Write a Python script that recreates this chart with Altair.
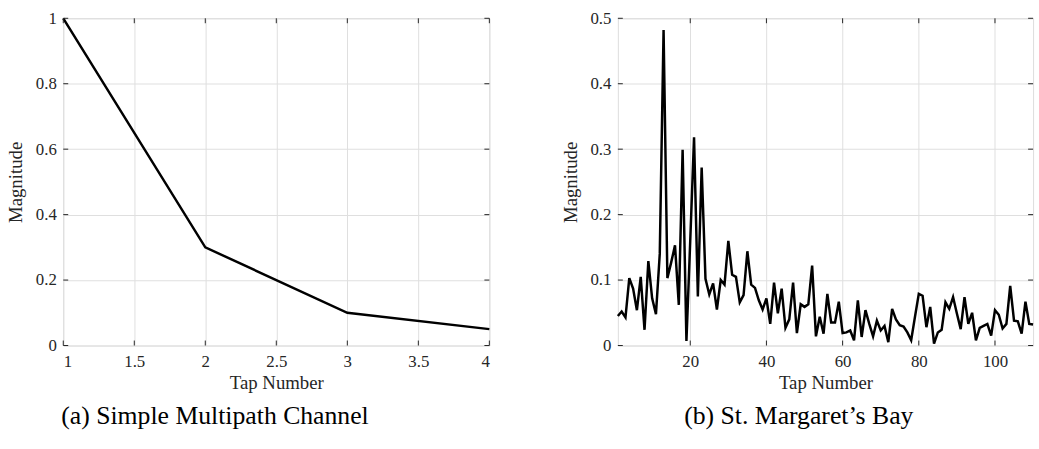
import altair as alt
import pandas as pd

# ---- data ----
left_taps = [1, 2, 3, 4]
left_mag = [1.0, 0.3, 0.1, 0.05]

right_mag = [0.045, 0.052, 0.043, 0.103, 0.087, 0.054, 0.105, 0.024, 0.129, 0.072,
             0.048, 0.140, 0.482, 0.103, 0.127, 0.153, 0.062, 0.299, 0.007, 0.160,
             0.318, 0.075, 0.272, 0.102, 0.078, 0.095, 0.055, 0.100, 0.093, 0.160,
             0.108, 0.105, 0.066, 0.077, 0.144, 0.093, 0.088, 0.069, 0.055, 0.072,
             0.033, 0.096, 0.049, 0.087, 0.027, 0.040, 0.096, 0.019, 0.063, 0.059,
             0.063, 0.122, 0.014, 0.044, 0.018, 0.079, 0.035, 0.035, 0.067, 0.019,
             0.020, 0.023, 0.008, 0.069, 0.013, 0.054, 0.033, 0.014, 0.038, 0.023,
             0.030, 0.005, 0.056, 0.040, 0.031, 0.029, 0.020, 0.008, 0.044, 0.079,
             0.076, 0.028, 0.059, 0.003, 0.020, 0.024, 0.066, 0.056, 0.074, 0.049,
             0.025, 0.074, 0.033, 0.050, 0.008, 0.027, 0.030, 0.033, 0.015, 0.054,
             0.047, 0.026, 0.033, 0.091, 0.038, 0.037, 0.018, 0.067, 0.033, 0.032]
right_taps = list(range(1, len(right_mag) + 1))

left_xticks = [1, 1.5, 2, 2.5, 3, 3.5, 4]
left_yticks = [0, 0.2, 0.4, 0.6, 0.8, 1]
right_xticks = [20, 40, 60, 80, 100]
right_yticks = [0, 0.1, 0.2, 0.3, 0.4, 0.5]

caption_a = "(a) Simple Multipath Channel"
caption_b = "(b) St. Margaret\u2019s Bay"
x_title = "Tap Number"
y_title = "Magnitude"

FONT = "Liberation Serif"
AX = "#262626"
GRID = "#dfdfdf"
TICK = 5


def panel(taps, mags, xdom, ydom, xticks, yticks, w, h, caption, cap_dx):
    df = pd.DataFrame({"tap": taps, "mag": mags})
    xs = alt.Scale(domain=xdom, nice=False, zero=False)
    ys = alt.Scale(domain=ydom, nice=False, zero=False)
    common = dict(grid=True, gridColor=GRID, gridWidth=1, domain=False, ticks=False,
                  labelFont=FONT, labelFontSize=17, labelColor=AX,
                  titleFont=FONT, titleFontSize=19, titleFontWeight="normal",
                  titleColor=AX, format="~r")
    line = alt.Chart(df).mark_line(color="black", strokeWidth=2.5).encode(
        x=alt.X("tap:Q", scale=xs,
                axis=alt.Axis(values=xticks, title=x_title, labelPadding=8,
                              titlePadding=4, **common)),
        y=alt.Y("mag:Q", scale=ys,
                axis=alt.Axis(values=yticks, title=y_title, labelPadding=7,
                              titlePadding=8, minExtent=30, maxExtent=30,
                              **common)),
    )
    xt = pd.DataFrame({"tap": xticks})
    yt = pd.DataFrame({"mag": yticks})
    tk = dict(color=AX, strokeWidth=1)
    xb = alt.Chart(xt).mark_rule(**tk).encode(
        x=alt.X("tap:Q", scale=xs), y=alt.value(h), y2=alt.value(h - TICK))
    xtop = alt.Chart(xt).mark_rule(**tk).encode(
        x=alt.X("tap:Q", scale=xs), y=alt.value(0), y2=alt.value(TICK))
    yl = alt.Chart(yt).mark_rule(**tk).encode(
        y=alt.Y("mag:Q", scale=ys), x=alt.value(0), x2=alt.value(TICK))
    yr = alt.Chart(yt).mark_rule(**tk).encode(
        y=alt.Y("mag:Q", scale=ys), x=alt.value(w), x2=alt.value(w - TICK))
    return alt.layer(line, xb, xtop, yl, yr).properties(
        width=w, height=h,
        title=alt.TitleParams(caption, orient="bottom", anchor="middle",
                              font=FONT, fontSize=26, fontWeight="normal",
                              color="black", offset=11, dx=cap_dx),
    )


left = panel(left_taps, left_mag, [1, 4], [0, 1], left_xticks, left_yticks,
             431, 331, caption_a, -62)
right = panel(right_taps, right_mag, [1, 110], [0, 0.5], right_xticks, right_yticks,
              420, 331, caption_b, -27)

chart = alt.hconcat(left, right, spacing=66).properties(
    padding={"left": 6, "top": 6, "right": 0, "bottom": 0}
).configure_view(stroke=AX, strokeWidth=1).configure(background="white")

chart.save("out.html", embed_options={"renderer": "svg", "actions": False})
